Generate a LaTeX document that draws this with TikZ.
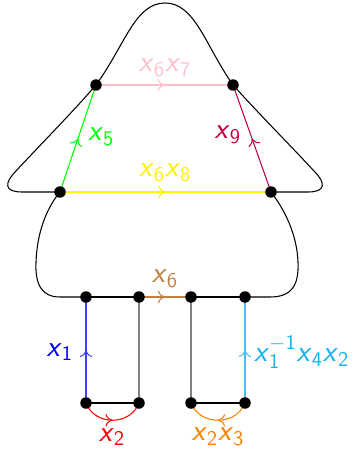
\documentclass[tikz,border=0pt]{standalone}
\usepackage{amstext}
\usetikzlibrary{decorations.markings,arrows.meta}
\definecolor{pinkc}{RGB}{255,192,203}
\definecolor{cyanc}{RGB}{20,178,238}
\newcommand{\vx}{\textsf{\textsl{x}}}
\newcommand{\vn}[1]{\textsf{#1}}
\begin{document}
\begin{tikzpicture}[x=0.02cm,y=-0.02cm,
  font=\fontsize{17}{20}\selectfont\sffamily,
  dot/.style={circle,fill=black,inner sep=0pt,minimum size=0.23cm},
  outline/.style={draw=black,line width=0.6pt},
  edge/.style={line width=0.6pt},
  midarrow/.style={postaction={decorate},decoration={markings,mark=at position 0.5 with {\arrow{To[length=4pt,width=7pt,open,round]}}}},
  lab/.style={inner sep=1pt}]
\useasboundingbox (0,0) rectangle (354,449);
\coordinate (t1) at (96,85);
\coordinate (t2) at (233,85);
\coordinate (m1) at (60,192);
\coordinate (m2) at (271,192);
\coordinate (b1) at (86,297);
\coordinate (b2) at (139,297);
\coordinate (b3) at (191,297);
\coordinate (b4) at (245,297);
\coordinate (c1) at (86,403);
\coordinate (c2) at (139,403);
\coordinate (c3) at (191,403);
\coordinate (c4) at (245,403);
% outline
\draw[outline] (b1) -- (60,297) .. controls (42,297) and (35,285) .. (36,262)
  .. controls (37,235) and (45,210) .. (m1) -- (22,192)
  .. controls (4,192) and (4,183) .. (16,171)
  .. controls (40,145) and (70,115) .. (t1)
  .. controls (125,45) and (135,3) .. (165,3)
  .. controls (195,3) and (205,45) .. (t2)
  .. controls (260,115) and (290,145) .. (314,171)
  .. controls (326,183) and (326,192) .. (308,192) -- (m2)
  .. controls (285,210) and (297,235) .. (298,262)
  .. controls (299,285) and (292,297) .. (270,297) -- (b4);
% top quadrilateral
\draw[edge,pinkc,midarrow] (t1) -- (t2);
\draw[edge,green,midarrow] (m1) -- (t1);
\draw[edge,purple,midarrow] (m2) -- (t2);
\draw[edge,yellow,midarrow] (m1) -- (m2);
% bottom
\draw[edge] (b1) -- (b2);
\draw[edge,brown,midarrow] (b2) -- (b3);
\draw[edge] (b3) -- (b4);
\draw[edge,blue!75,midarrow] (c1) -- (b1);
\draw[edge,cyanc!80,midarrow] (c4) -- (b4);
\draw[gray,line width=1.2pt] (b2) -- (c2);
\draw[gray,line width=1.2pt] (b3) -- (c3);
\draw[edge] (c1) -- (c2);
\draw[edge] (c3) -- (c4);
\draw[edge,red,midarrow] (c1) .. controls (95,426) and (130,426) .. (c2);
\draw[edge,orange,midarrow] (c4) .. controls (236,426) and (200,426) .. (c3);
% dots
\foreach \p in {t1,t2,m1,m2,b1,b2,b3,b4,c1,c2,c3,c4}
  \node[dot] (d\p) at (\p) {};
% labels
\node[lab,text=pinkc] (l67) at (165,68) {$\vx_{\vn{6}}\vx_{\vn{7}}$};
\node[lab,text=green,anchor=west] (l5) at (86,137) {$\vx_{\vn{5}}$};
\node[lab,text=purple,anchor=east] (l9) at (243,135) {$\vx_{\vn{9}}$};
\node[lab,text=yellow] (l68) at (165,173) {$\vx_{\vn{6}}\vx_{\vn{8}}$};
\node[lab,text=brown] (l6) at (165,279) {$\vx_{\vn{6}}$};
\node[lab,text=blue,anchor=east] (l1) at (75,352) {$\vx_{\vn{1}}$};
\node[lab,text=cyanc,anchor=west] (lc) at (252,352) {$\vx_{\vn{1}}^{-\vn{1}}\vx_{\vn{4}}\vx_{\vn{2}}$};
\node[lab,text=red] (l2) at (112,437) {$\vx_{\vn{2}}$};
\node[lab,text=orange] (l23) at (218,437) {$\vx_{\vn{2}}\vx_{\vn{3}}$};
\end{tikzpicture}
\end{document}
